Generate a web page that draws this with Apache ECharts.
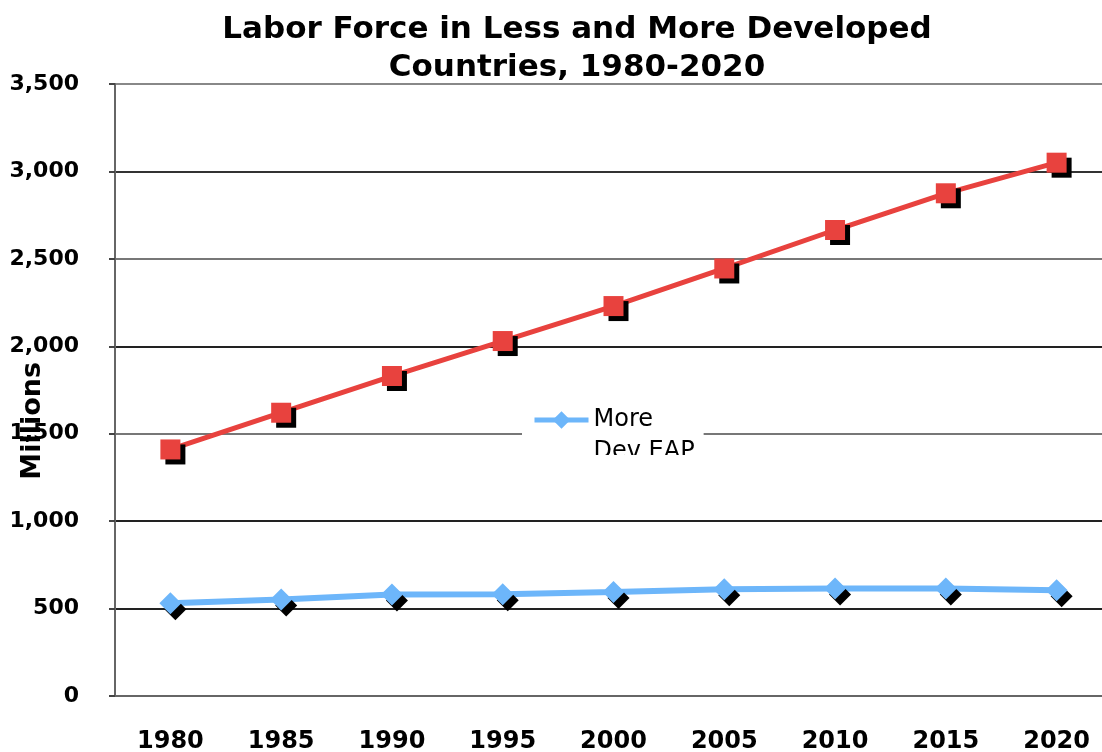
<!DOCTYPE html>
<html>
<head>
<meta charset="utf-8">
<title>Labor Force in Less and More Developed Countries</title>
<script src="https://cdn.jsdelivr.net/npm/echarts@6/dist/echarts.min.js"></script>
<style>
  html, body { margin: 0; padding: 0; background: #fff; }
  #chart { width: 1102px; height: 752px; }
</style>
</head>
<body>
<div id="chart"></div>
<script>
  // data (millions)
  var years = ['1980', '1985', '1990', '1995', '2000', '2005', '2010', '2015', '2020'];
  var lessDev = [1410, 1620, 1830, 2030, 2230, 2445, 2665, 2875, 3050];
  var moreDev = [530, 552, 580, 582, 595, 610, 615, 615, 605];
  var yTicks = [0, 500, 1000, 1500, 2000, 2500, 3000, 3500];

  var font = 'DejaVu Sans, Verdana, sans-serif';
  var chart = echarts.init(document.getElementById('chart'));

  chart.setOption({
    animation: false,
    title: {
      text: 'Labor Force in Less and More Developed\nCountries, 1980-2020',
      left: 572,
      top: 6,
      textAlign: 'center',
      textStyle: { fontFamily: font, fontSize: 31, fontWeight: 'bold', color: '#000', lineHeight: 38 }
    },
    grid: { left: 115, right: -10, top: 84, bottom: 56, outerBoundsMode: 'none' },
    legend: {
      data: ['More Dev EAP'],
      left: 522,
      top: 366,
      padding: [6, 9, 8, 10],
      backgroundColor: '#fff',
      itemWidth: 54,
      itemHeight: 22,
      itemGap: 0,
      // empty first line keeps "More" level with the icon
      formatter: function () { return '\nMore\nDev EAP'; },
      textStyle: { fontFamily: font, fontSize: 24, color: '#000', lineHeight: 32 },
      lineStyle: { width: 5 },
      itemStyle: { shadowColor: 'transparent' }
    },
    graphic: [{
      // the legend box is cut off below the first text line
      type: 'rect', z: 100,
      shape: { x: 522, y: 455, width: 182, height: 30 },
      style: { fill: '#fff' }
    }, {
      type: 'text', z: 100,
      left: 19, top: 362,
      rotation: Math.PI / 2,
      style: { text: 'Millions', font: 'bold 27px ' + font, fill: '#000' }
    }],
    xAxis: {
      type: 'category',
      data: years,
      boundaryGap: true,
      axisLine: { lineStyle: { color: '#666', width: 2 } },
      axisTick: { length: 8, lineStyle: { color: '#444', width: 2 } },
      axisLabel: { margin: 34, color: '#000', fontFamily: font, fontSize: 24, fontWeight: 'bold' }
    },
    yAxis: {
      type: 'value',
      min: yTicks[0],
      max: yTicks[yTicks.length - 1],
      interval: 500,
      axisLine: { show: true, lineStyle: { color: '#666', width: 2 } },
      axisTick: { show: true, length: 6, lineStyle: { color: '#444', width: 2 } },
      axisLabel: {
        margin: 36, color: '#000', fontFamily: font, fontSize: 22, fontWeight: 'bold',
        formatter: function (v) { return v.toLocaleString('en-US'); }
      },
      splitLine: {
        lineStyle: { color: ['#666', '#222', '#222', '#777', '#222', '#777', '#333', '#888'], width: 2 }
      }
    },
    series: [
      {
        name: 'Less Dev EAP',
        type: 'line',
        data: lessDev,
        symbol: 'rect',
        symbolSize: 20,
        lineStyle: { color: '#e8423e', width: 5 },
        itemStyle: { color: '#e8423e', shadowColor: '#000', shadowOffsetX: 5, shadowOffsetY: 5, shadowBlur: 0 }
      },
      {
        name: 'More Dev EAP',
        type: 'line',
        data: moreDev,
        symbol: 'diamond',
        symbolSize: 22,
        lineStyle: { color: '#6db6fa', width: 6 },
        itemStyle: { color: '#6db6fa', shadowColor: '#000', shadowOffsetX: 5, shadowOffsetY: 6, shadowBlur: 0 }
      }
    ]
  });
</script>
</body>
</html>
